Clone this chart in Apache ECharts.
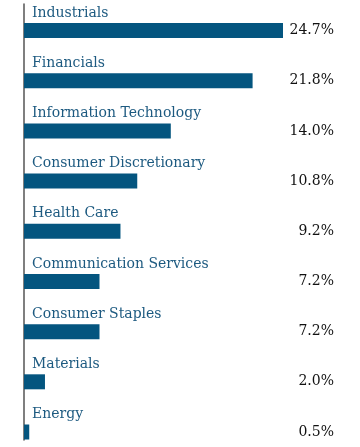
<!DOCTYPE html>
<html>
<head>
<meta charset="utf-8">
<script src="https://cdn.jsdelivr.net/npm/echarts@6/dist/echarts.min.js"></script>
<style>html,body{margin:0;padding:0;background:#fff;}#c{width:360px;height:447px;}</style>
</head>
<body>
<div id="c"></div>
<script>
var categories = ["Industrials","Financials","Information Technology","Consumer Discretionary","Health Care","Communication Services","Consumer Staples","Materials","Energy"];
var values = [24.7,21.8,14.0,10.8,9.2,7.2,7.2,2.0,0.5];
var valueLabels = values.map(function(v){return v.toFixed(1)+"%";});

var chart = echarts.init(document.getElementById('c'), null, {renderer:'canvas'});
chart.setOption({
  animation:false,
  grid:[
    {left:24, top:30.5, width:259, height:401.5, containLabel:false},
    {left:24, top:4, width:259, height:436, containLabel:false}
  ],
  xAxis:[
    {type:'value', min:0, max:24.7, show:false, gridIndex:0},
    {type:'value', min:0, max:1, show:false, gridIndex:1}
  ],
  yAxis:[{
    type:'category', data:categories, inverse:true, gridIndex:0, boundaryGap:false,
    axisLine:{show:false}, axisTick:{show:false}, splitLine:{show:false},
    axisLabel:{show:false}
  },{
    type:'category', data:valueLabels, inverse:true, position:'right', gridIndex:0, boundaryGap:false,
    axisLine:{show:false}, axisTick:{show:false}, splitLine:{show:false},
    axisLabel:{align:'right', margin:51, color:'#111111', fontFamily:'DejaVu Serif', fontSize:14}
  },{
    type:'value', min:0, max:1, gridIndex:1,
    axisLine:{show:true, lineStyle:{color:'#555555', width:1.5}},
    axisTick:{show:false}, splitLine:{show:false}, axisLabel:{show:false}
  }],
  series:[{type:'bar', data:values, barWidth:15, xAxisIndex:0, yAxisIndex:0, z:3, itemStyle:{color:'#04557f'}, silent:true,
    label:{show:true, formatter:'{b}', position:[8,-10], verticalAlign:'middle', align:'left', color:'#1d5a80', fontFamily:'DejaVu Serif', fontSize:14}
  }]
});
</script>
</body>
</html>
